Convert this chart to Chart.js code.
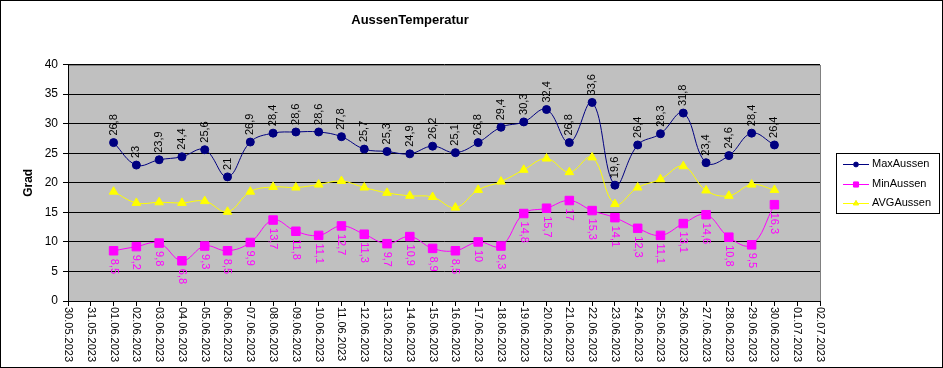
<!DOCTYPE html>
<html>
<head>
<meta charset="utf-8">
<script src="https://cdn.jsdelivr.net/npm/chart.js@4/dist/chart.umd.min.js"></script>
<style>
  html, body { margin: 0; padding: 0; background: #fff; }
  #wrap { width: 943px; height: 368px; }
</style>
</head>
<body>
<div id="wrap"><canvas id="tempChart" width="943" height="368"></canvas></div>
<script>
const DATES = [
  "30.05.2023", "31.05.2023", "01.06.2023", "02.06.2023", "03.06.2023", "04.06.2023",
  "05.06.2023", "06.06.2023", "07.06.2023", "08.06.2023", "09.06.2023", "10.06.2023",
  "11.06.2023", "12.06.2023", "13.06.2023", "14.06.2023", "15.06.2023", "16.06.2023",
  "17.06.2023", "18.06.2023", "19.06.2023", "20.06.2023", "21.06.2023", "22.06.2023",
  "23.06.2023", "24.06.2023", "25.06.2023", "26.06.2023", "27.06.2023", "28.06.2023",
  "29.06.2023", "30.06.2023", "01.07.2023", "02.07.2023",
];

const MAX_AUSSEN = [
  null, null,
  26.8, 23.0, 23.9, 24.4, 25.6, 21.0, 26.9, 28.4, 28.6, 28.6,
  27.8, 25.7, 25.3, 24.9, 26.2, 25.1, 26.8, 29.4, 30.3, 32.4,
  26.8, 33.6, 19.6, 26.4, 28.3, 31.8, 23.4, 24.6, 28.4, 26.4,
  null, null,
];

const MIN_AUSSEN = [
  null, null,
  8.5, 9.2, 9.8, 6.8, 9.3, 8.5, 9.9, 13.7, 11.8, 11.1,
  12.7, 11.3, 9.7, 10.9, 8.9, 8.5, 10.0, 9.3, 14.8, 15.7,
  17.0, 15.3, 14.1, 12.3, 11.1, 13.1, 14.6, 10.8, 9.5, 16.3,
  null, null,
];

const AVG_AUSSEN = [
  null, null,
  18.5, 16.6, 16.7, 16.6, 16.9, 15.1, 18.5, 19.3, 19.2, 19.7,
  20.3, 19.2, 18.3, 17.8, 17.6, 15.8, 18.8, 20.2, 22.2, 24.1,
  21.8, 24.3, 16.4, 19.2, 20.6, 22.8, 18.7, 17.8, 19.7, 18.8,
  null, null,
];

const Y_TICKS = [0, 5, 10, 15, 20, 25, 30, 35, 40];

const FONT = "Arial, 'Liberation Sans', sans-serif";
const PLOT_BG = "#c0c0c0";

const fmt = v => (Number.isInteger(v) ? String(v) : v.toFixed(1).replace(".", ","));

// plot area, outer frame, rotated date labels, value labels and legend
const excelLook = {
  id: "excelLook",
  beforeDraw(chart) {
    const { ctx, chartArea: a } = chart;
    ctx.save();
    ctx.fillStyle = "#fff";
    ctx.fillRect(0, 0, chart.width, chart.height);
    ctx.fillStyle = PLOT_BG;
    ctx.fillRect(a.left, a.top, a.right - a.left, a.bottom - a.top);
    ctx.strokeStyle = "#808080";
    ctx.lineWidth = 1;
    ctx.strokeRect(Math.round(a.left) + 0.5, Math.round(a.top) + 0.5,
      Math.round(a.right - a.left), Math.round(a.bottom - a.top));
    ctx.restore();
  },
  afterDraw(chart) {
    const { ctx, chartArea: a } = chart;
    const xs = chart.scales.x;
    ctx.save();

    // outer frame
    ctx.strokeStyle = "#000";
    ctx.lineWidth = 1;
    ctx.strokeRect(0.5, 0.5, chart.width - 1, chart.height - 1);

    // date labels, reading top to bottom
    ctx.fillStyle = "#000";
    ctx.font = `11px ${FONT}`;
    ctx.textAlign = "left";
    ctx.textBaseline = "middle";
    DATES.forEach((d, i) => {
      const x = xs.getPixelForValue(i);
      ctx.save();
      ctx.translate(x, a.bottom + 6);
      ctx.rotate(Math.PI / 2);
      ctx.fillText(d, 0, 0);
      ctx.restore();
    });

    // value labels
    const maxMeta = chart.getDatasetMeta(0);
    const minMeta = chart.getDatasetMeta(1);
    MAX_AUSSEN.forEach((v, i) => {
      if (v === null) return;
      const p = maxMeta.data[i];
      ctx.save();
      ctx.translate(p.x, p.y - 7);
      ctx.rotate(-Math.PI / 2);
      ctx.fillStyle = "#000";
      ctx.fillText(fmt(v), 0, 0);
      ctx.restore();
    });
    MIN_AUSSEN.forEach((v, i) => {
      if (v === null) return;
      const p = minMeta.data[i];
      ctx.save();
      ctx.translate(p.x, p.y + 8);
      ctx.rotate(Math.PI / 2);
      ctx.fillStyle = "#ff00ff";
      ctx.fillText(fmt(v), 0, 0);
      ctx.restore();
    });

    // legend box
    const lx = 836, ly = 153, lw = 103, lh = 60;
    ctx.fillStyle = "#fff";
    ctx.fillRect(lx, ly, lw, lh);
    ctx.strokeStyle = "#000";
    ctx.strokeRect(lx + 0.5, ly + 0.5, lw, lh);
    ctx.font = `11px ${FONT}`;
    ctx.textAlign = "left";
    ctx.textBaseline = "middle";
    chart.data.datasets.forEach((ds, k) => {
      const y = ly + 11 + k * 19.5;
      ctx.strokeStyle = ds.borderColor;
      ctx.lineWidth = 1;
      ctx.beginPath();
      ctx.moveTo(843, Math.round(y) + 0.5);
      ctx.lineTo(869, Math.round(y) + 0.5);
      ctx.stroke();
      Chart.helpers.drawPoint(ctx, {
        pointStyle: ds.pointStyle,
        radius: ds.pointRadius * 0.6,
        borderWidth: 1,
        rotation: 0,
      }, 856, Math.round(y) + 0.5);
      ctx.fillStyle = ds.backgroundColor;
      ctx.strokeStyle = ds.borderColor;
      ctx.fill();
      ctx.fillStyle = "#000";
      ctx.fillText(ds.label, 872, y);
    });

    ctx.restore();
  },
};

function initChart() {
  const ctx = document.getElementById("tempChart").getContext("2d");
  return new Chart(ctx, {
    type: "line",
    data: {
      labels: DATES,
      datasets: [
        {
          label: "MaxAussen",
          data: MAX_AUSSEN,
          borderColor: "#000080", backgroundColor: "#000080",
          borderWidth: 1, pointStyle: "circle", pointRadius: 4, tension: 0.4,
        },
        {
          label: "MinAussen",
          data: MIN_AUSSEN,
          borderColor: "#ff00ff", backgroundColor: "#ff00ff",
          borderWidth: 1, pointStyle: "rect", pointRadius: 6, tension: 0.4,
        },
        {
          label: "AVGAussen",
          data: AVG_AUSSEN,
          borderColor: "#ffff00", backgroundColor: "#ffff00",
          borderWidth: 1, pointStyle: "triangle", pointRadius: 5, tension: 0.4,
        },
      ],
    },
    options: {
      responsive: false,
      animation: false,
      layout: { padding: { left: 0, right: 123, top: 0, bottom: 0 } },
      plugins: {
        legend: { display: false },
        tooltip: { enabled: false },
        title: {
          display: true,
          text: "AussenTemperatur",
          color: "#000",
          font: { family: FONT, size: 13, weight: "bold" },
          padding: { top: 13, bottom: 36 },
        },
      },
      scales: {
        x: {
          type: "category",
          offset: false,
          grid: { display: true, drawOnChartArea: false, drawTicks: true, tickLength: 5, color: "#000", offset: false },
          border: { display: true, color: "#000" },
          ticks: { display: false, autoSkip: false },
          afterFit: s => { s.height = 67; },
        },
        y: {
          min: 0, max: 40,
          afterBuildTicks: s => { s.ticks = Y_TICKS.map(v => ({ value: v })); },
          grid: { color: "#000", tickLength: 5 },
          border: { display: true, color: "#000" },
          ticks: { color: "#000", font: { family: FONT, size: 12 }, padding: 5 },
          title: {
            display: true, text: "Grad", color: "#000",
            font: { family: FONT, size: 12, weight: "bold" },
            padding: { top: 21, bottom: 0 },
          },
          afterFit: s => { s.width = 68; },
        },
      },
    },
    plugins: [excelLook],
  });
}

window.addEventListener("DOMContentLoaded", initChart);
</script>
</body>
</html>
